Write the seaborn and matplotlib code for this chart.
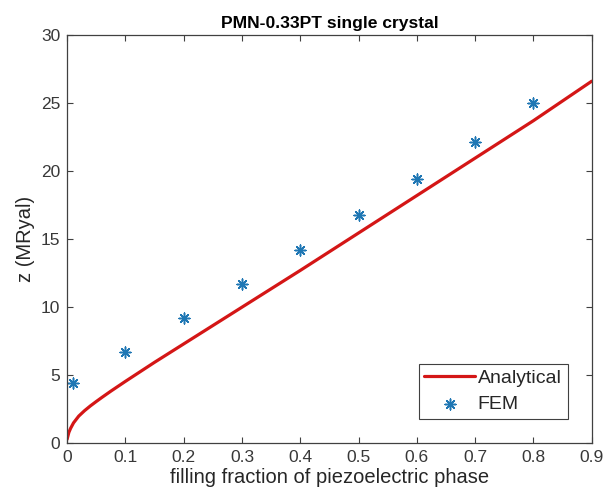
import numpy as np
import pandas as pd
import matplotlib
matplotlib.use("Agg")
import matplotlib.pyplot as plt
import seaborn as sns

# Analytical curve
frac_analytical = [0.0, 0.003, 0.006, 0.011, 0.02, 0.03, 0.04, 0.05, 0.06,
                   0.075, 0.1, 0.15, 0.2, 0.3, 0.4, 0.5, 0.6, 0.7, 0.8, 0.9]
z_analytical = [0.3, 0.8, 1.1, 1.5, 2.0, 2.4, 2.75, 3.07, 3.38,
                3.83, 4.55, 5.95, 7.3, 10.0, 12.7, 15.45, 18.2, 20.95, 23.7, 26.6]

# FEM results
frac_fem = [0.01, 0.1, 0.2, 0.3, 0.4, 0.5, 0.6, 0.7, 0.8]
z_fem = [4.4, 6.7, 9.2, 11.7, 14.2, 16.75, 19.4, 22.1, 25.0]

x_ticks = [0, 0.1, 0.2, 0.3, 0.4, 0.5, 0.6, 0.7, 0.8, 0.9]
y_ticks = [0, 5, 10, 15, 20, 25, 30]

df_an = pd.DataFrame({"frac": frac_analytical, "z": z_analytical})
df_fem = pd.DataFrame({"frac": frac_fem, "z": z_fem})

sns.set_style("white")
plt.rcParams["font.family"] = ["Liberation Sans", "DejaVu Sans"]

fig = plt.figure(figsize=(6.1, 4.99), dpi=100)
ax = fig.add_axes([0.110, 0.1116, 0.860, 0.8184])

sns.lineplot(data=df_an, x="frac", y="z", ax=ax, color="#d41616",
             linewidth=2.3, label="Analytical", sort=True)
sns.scatterplot(data=df_fem, x="frac", y="z", ax=ax, marker=(8, 2, 0),
                s=60, color="#1f77b4", edgecolor="#1f6fa8", linewidth=1.1,
                label="FEM")

ax.set_xlim(0, 0.9)
ax.set_ylim(0, 30)
ax.set_xticks(x_ticks)
ax.set_xticklabels([f"{t:g}" for t in x_ticks])
ax.set_yticks(y_ticks)
ax.tick_params(direction="in", length=4, width=0.8, colors="#404040",
               labelsize=12.5, top=True, right=True, bottom=True, left=True,
               labelcolor="#383838", pad=5)
for sp in ax.spines.values():
    sp.set_color("#404040")
    sp.set_linewidth(0.9)

ax.set_title("PMN-0.33PT single crystal", fontsize=12.6, fontweight="bold",
             color="black", pad=5)
ax.set_xlabel("filling fraction of piezoelectric phase", fontsize=14.5,
              color="#262626", labelpad=2)
ax.set_ylabel("z (MRyal)", fontsize=14.5, color="#262626", labelpad=4)

leg = ax.legend(loc="lower right", bbox_to_anchor=(0.954, 0.06), fontsize=14,
                frameon=True, fancybox=False, framealpha=1, edgecolor="#404040",
                borderpad=0.3, handlelength=2.6, handletextpad=0.15,
                labelspacing=0.42, borderaxespad=0)
leg.get_frame().set_linewidth(0.8)

fig.savefig("out.png", dpi=100)
